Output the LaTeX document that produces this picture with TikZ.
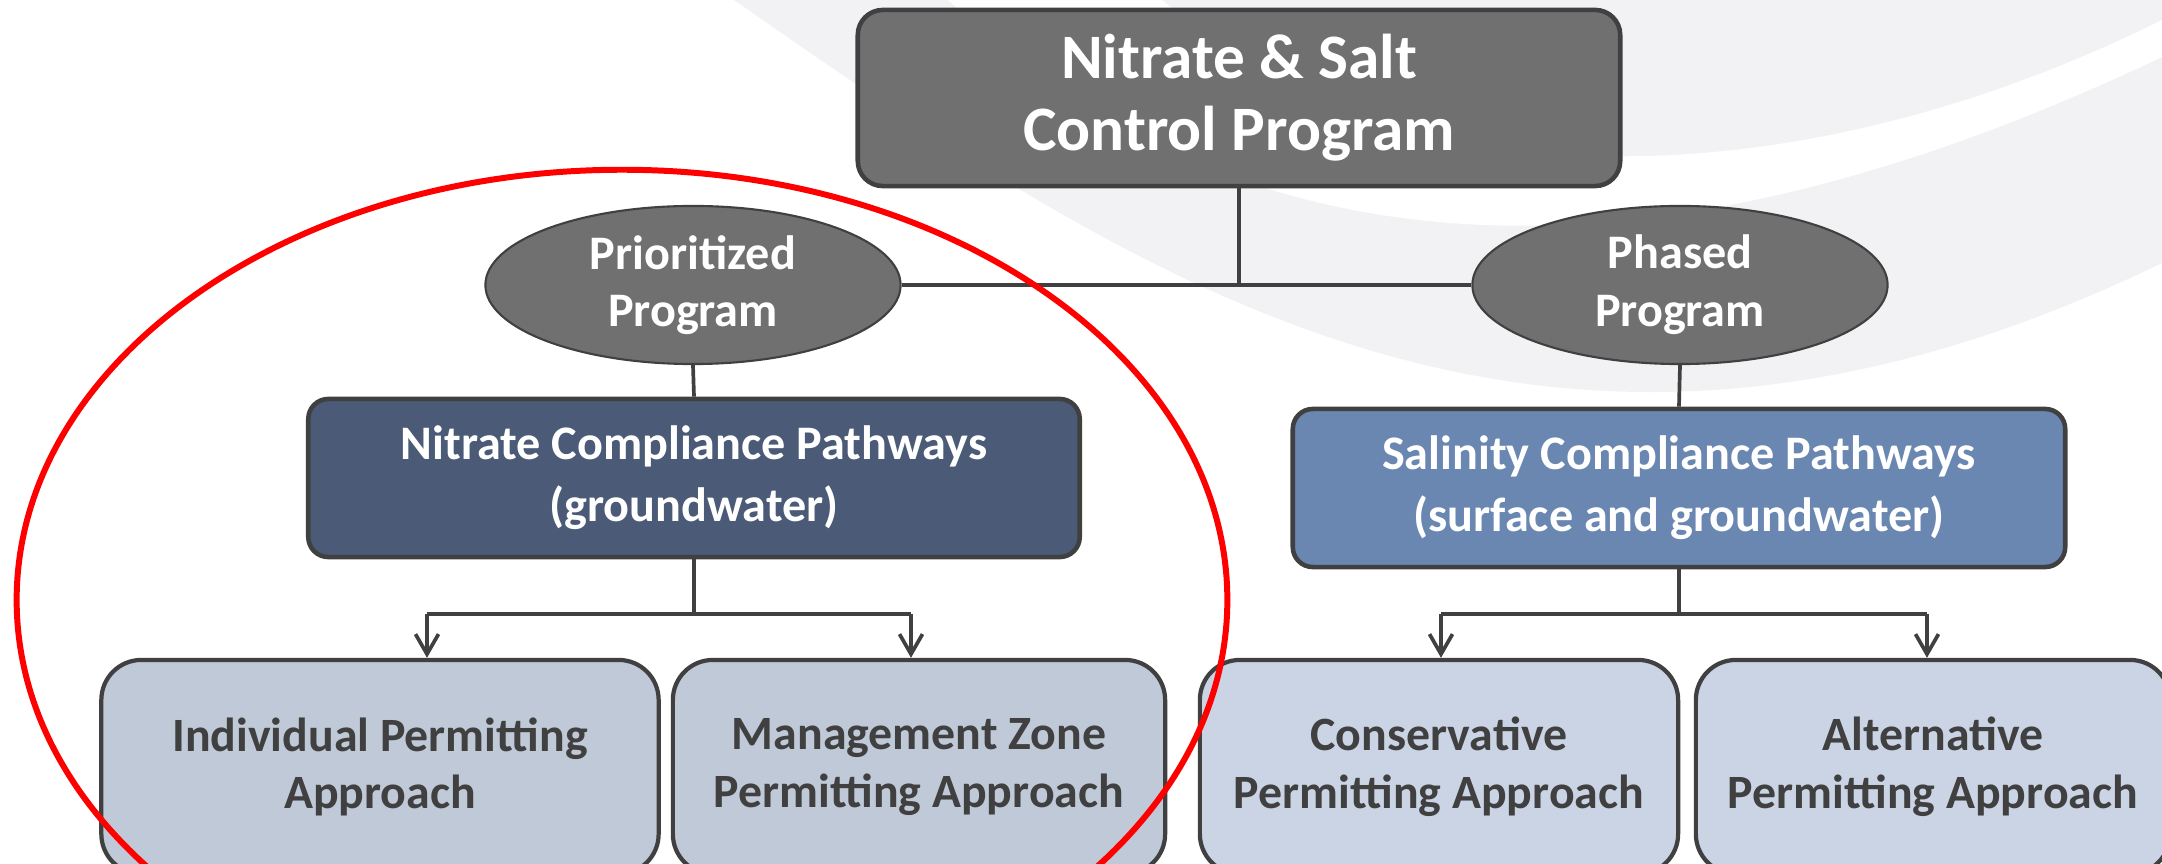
\documentclass[tikz,border=0pt]{standalone}
\usepackage{fontspec}
\setmainfont{Carlito}
\usepackage{tikz}
\usetikzlibrary{arrows.meta, positioning, shapes.geometric}
\definecolor{swoosh}{RGB}{242, 242, 244}
\definecolor{dgray}{RGB}{112, 112, 112}
\definecolor{edge}{RGB}{64, 64, 64}
\definecolor{nitblue}{RGB}{74, 90, 119}
\definecolor{salblue}{RGB}{106, 135, 178}
\definecolor{nitpale}{RGB}{192, 201, 216}
\definecolor{salpale}{RGB}{203, 212, 229}

\begin{document}
\begin{tikzpicture}[x=0.01cm, y=-0.01cm,
        ctl/.style={draw=edge, line width=1.3pt, fill=dgray, rounded corners=0.25cm,
                    minimum width=7.62cm, minimum height=1.76cm, align=center, text=white,
                    font=\fontsize{18}{20.5}\selectfont\bfseries},
        prg/.style={ellipse, draw=edge, line width=0.6pt, fill=dgray, inner sep=0pt,
                    minimum width=4.15cm, minimum height=1.58cm, align=center, text=white,
                    font=\fontsize{13.7}{16.4}\selectfont\bfseries},
        pw/.style={draw=edge, line width=1.3pt, rounded corners=0.2cm,
                   minimum width=7.72cm, minimum height=1.58cm, align=center, text=white,
                   font=\fontsize{13.7}{17.6}\selectfont\bfseries},
        ap/.style={draw=edge, line width=1.2pt, rounded corners=0.4cm,
                   minimum height=2.14cm, align=center, text=edge,
                   font=\fontsize{13.6}{16.4}\selectfont\bfseries},
        ln/.style={draw=edge, line width=1.05pt},
        bar/.style={draw=edge, line width=1.15pt},
        arr/.style={draw=edge, line width=1.05pt, -{Straight Barb[length=0.2cm, width=0.23cm]}}]
  \useasboundingbox (0,0) rectangle (2162,864);
  \clip (0,0) rectangle (2162,864);

  % background swooshes
  \fill[swoosh] (734,0) .. controls (1150,290) and (1550,560) .. (2162,263) -- (2162,0) -- cycle;
  \fill[white] (948,0) .. controls (1250,280) and (1650,300) .. (2162,57)
    -- (2162,20) .. controls (1800,200) and (1400,210) .. (1162,0) -- cycle;

  \node[ctl] (ctrl) at (1239,98) {Nitrate \& Salt\\Control Program};
  \node[prg] (prio) at (693,285) {Prioritized\\Program};
  \node[prg] (phas) at (1680,285) {Phased\\Program};
  \node[pw, fill=nitblue, minimum width=7.71cm] (nit) at (694,478) {Nitrate Compliance Pathways\\(groundwater)};
  \node[pw, fill=salblue] (sal) at (1679,488) {Salinity Compliance Pathways\\(surface and groundwater)};

  \node[ap, fill=nitpale, minimum width=5.57cm] (indiv) at (380,767) {Individual Permitting\\Approach};
  \node[ap, fill=nitpale, minimum width=4.92cm] (mgmt) at (919,767) {Management Zone\\Permitting Approach};
  \node[ap, fill=salpale, minimum width=4.78cm] (cons) at (1439,767) {Conservative\\Permitting Approach};
  \node[ap, fill=salpale, minimum width=4.74cm] (alt) at (1933,767) {Alternative\\Permitting Approach};

  % tree lines
  \draw[ln] (ctrl.south) -- (ctrl.south |- prio.east);
  \draw[ln] (prio.east) -- (phas.west);
  \draw[ln] (prio.south) -- (nit.north);
  \draw[ln] (phas.south) -- (sal.north);

  \coordinate (nl) at (427,614);
  \coordinate (nr) at (911,614);
  \coordinate (sl) at (1441,614);
  \coordinate (sr) at (1927,614);
  \draw[ln] (nit.south) -- (nit.south |- nl);
  \draw[ln] (sal.south) -- (sal.south |- sl);
  \draw[bar] (nl) -- (nr);
  \draw[bar] (sl) -- (sr);
  \draw[arr] (nl) -- (nl |- indiv.north);
  \draw[arr] (nr) -- (nr |- mgmt.north);
  \draw[arr] (sl) -- (sl |- cons.north);
  \draw[arr] (sr) -- (sr |- alt.north);

  % highlight ring
  \draw[red, line width=1.7pt] (622,600) ellipse [x radius=6.05cm, y radius=4.3cm];
\end{tikzpicture}
\end{document}
